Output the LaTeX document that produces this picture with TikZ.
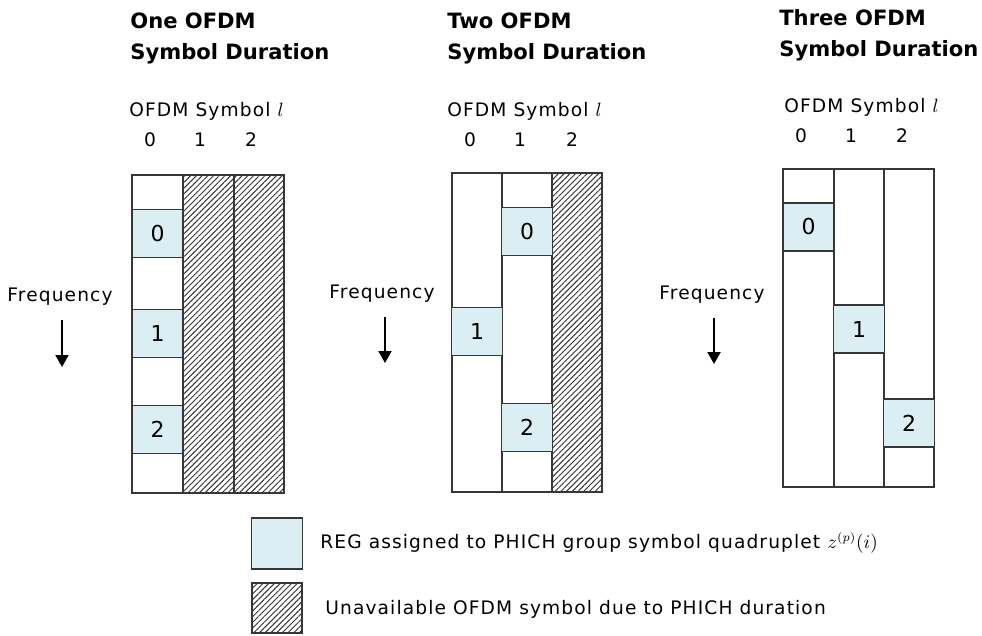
\documentclass[tikz,border=0pt]{standalone}
\usepackage{fontspec}
\setmainfont{DejaVu Sans}
\newfontfamily\labelfont[LetterSpace=6]{DejaVu Sans}
\usetikzlibrary{arrows.meta,patterns.meta}
\definecolor{regblue}{RGB}{218,238,243}
\definecolor{edgegray}{RGB}{55,55,55}

\begin{document}
\begin{tikzpicture}[x=0.02cm, y=-0.02cm,
  box/.style={draw=edgegray, line width=1.1pt},
  regcell/.style={draw=edgegray, line width=1.1pt, fill=regblue, minimum width=1.02cm, minimum height=0.96cm, inner sep=0pt, font=\labelfont\fontsize{12.5}{14}\selectfont},
  unavail/.style={pattern={Lines[angle=45,distance=2.3pt,line width=0.55pt]}, pattern color=black!80},
  title/.style={anchor=west, align=left, inner sep=0pt, font=\bfseries\fontsize{12}{17.6}\selectfont},
  lbl/.style={inner sep=0pt, font=\labelfont\fontsize{10.6}{12}\selectfont},
  freqarrow/.style={draw=black, line width=1.1pt, -{Triangle[length=2.4mm,width=2.6mm]}}]
  \useasboundingbox (0,0) rectangle (982,635);

  % one OFDM symbol
  \node[title] (tA) at (130,38) {One OFDM\\Symbol Duration};
  \node[lbl, anchor=west] (sA) at (129,111) {OFDM Symbol $l$};
  \node[lbl] (nA0) at (150,140) {0};
  \node[lbl] (nA1) at (200,140) {1};
  \node[lbl] (nA2) at (251,140) {2};
  \fill[unavail] (183,175) rectangle (284,493);
  \draw[box] (132,175) rectangle (284,493);
  \draw[box] (183,175) -- (183,493);
  \draw[box] (234,175) -- (234,493);
  \node[regcell] (rA0) at (157.5,233.5) {0};
  \node[regcell] (rA1) at (157.5,333.5) {1};
  \node[regcell] (rA2) at (157.5,429.5) {2};
  \node[lbl] (fA) at (60,297) {Frequency};
  \coordinate (fAtop) at (62,320);
  \coordinate (fAtip) at (62,367);
  \draw[freqarrow] (fAtop) -- (fAtip);

  % two OFDM symbols
  \node[title] (tB) at (447,38) {Two OFDM\\Symbol Duration};
  \node[lbl, anchor=west] (sB) at (447,111) {OFDM Symbol $l$};
  \node[lbl] (nB0) at (470,140) {0};
  \node[lbl] (nB1) at (520,140) {1};
  \node[lbl] (nB2) at (572,140) {2};
  \fill[unavail] (552,173) rectangle (602,492);
  \draw[box] (452,173) rectangle (602,492);
  \draw[box] (502,173) -- (502,492);
  \draw[box] (552,173) -- (552,492);
  \node[regcell] (rB0) at (527,231.5) {0};
  \node[regcell] (rB1) at (477,331.5) {1};
  \node[regcell] (rB2) at (527,427.5) {2};
  \node[lbl] (fB) at (382,294) {Frequency};
  \coordinate (fBtop) at (385,317);
  \coordinate (fBtip) at (385,363);
  \draw[freqarrow] (fBtop) -- (fBtip);

  % three OFDM symbols
  \node[title] (tC) at (779,35) {Three OFDM\\Symbol Duration};
  \node[lbl, anchor=west] (sC) at (784,107) {OFDM Symbol $l$};
  \node[lbl] (nC0) at (801,136) {0};
  \node[lbl] (nC1) at (851,136) {1};
  \node[lbl] (nC2) at (902,136) {2};
  \draw[box] (783,169) rectangle (934,487);
  \draw[box] (834,169) -- (834,487);
  \draw[box] (884,169) -- (884,487);
  \node[regcell] (rC0) at (808.5,227) {0};
  \node[regcell] (rC1) at (859,329) {1};
  \node[regcell] (rC2) at (909,423) {2};
  \node[lbl] (fC) at (712,295) {Frequency};
  \coordinate (fCtop) at (714,318);
  \coordinate (fCtip) at (714,364);
  \draw[freqarrow] (fCtop) -- (fCtip);

  % legend
  \node[regcell, minimum height=1.02cm] (keyReg) at (277,543.5) {};
  \node[lbl, anchor=west] (keyRegText) at (320,543) {REG assigned to PHICH group symbol quadruplet $z^{(p)}(i)$};
  \fill[unavail] (252,583) rectangle (302,633);
  \draw[box] (252,583) rectangle (302,633);
  \node[lbl, anchor=west] (keyUnText) at (325,609) {Unavailable OFDM symbol due to PHICH duration};
\end{tikzpicture}
\end{document}
